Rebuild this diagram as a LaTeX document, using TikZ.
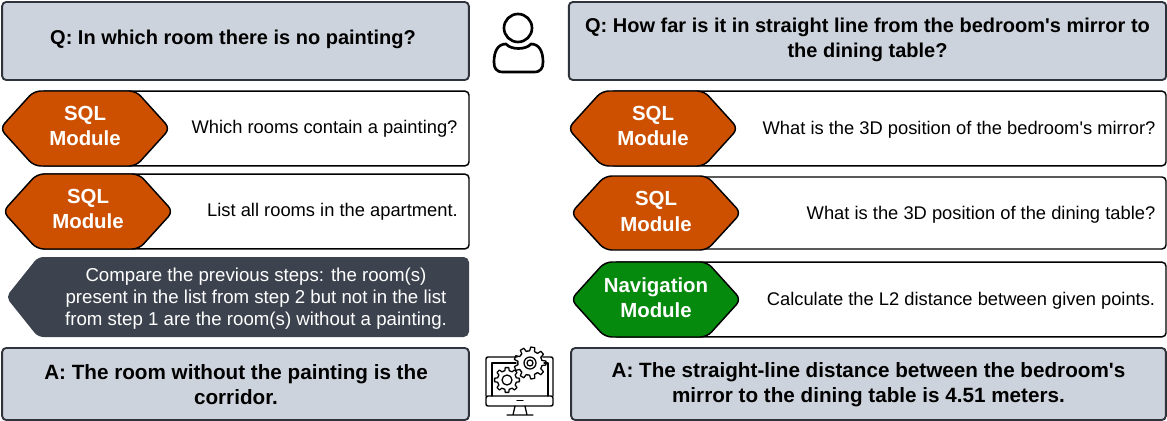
\documentclass[tikz,border=0pt]{standalone}
\usepackage{fontspec}
\setmainfont{Liberation Sans}[Ligatures=TeXOff]
\definecolor{qgray}{HTML}{CDD3DC}
\definecolor{edgegray}{HTML}{2E333B}
\definecolor{sqlorange}{HTML}{CC5000}
\definecolor{navgreen}{HTML}{068A0E}
\definecolor{darkslate}{HTML}{3D434E}
\tikzset{
  qabox/.style={draw=edgegray,line width=1.4pt,fill=qgray,rounded corners=3pt,inner sep=0pt},
  qtext/.style={align=center,font=\fontsize{15}{19}\selectfont\bfseries,text=black,inner sep=0pt},
  atext/.style={align=center,font=\fontsize{15.5}{19}\selectfont\bfseries,text=black,inner sep=0pt},
  stepbox/.style={draw=black,line width=1.1pt,fill=white,rounded corners=3pt,inner sep=0pt},
  steptext/.style={font=\fontsize{13.75}{18}\selectfont,text=black,inner sep=0pt},
  hexshape/.style={draw=black,line width=1.1pt,rounded corners=5pt,line join=round},
  modtext/.style={font=\fontsize{15.3}{19}\selectfont\bfseries,text=white,align=center,inner sep=0pt},
  icon/.style={draw=black,line width=1.5pt,line cap=round,line join=round},
  iconthin/.style={draw=black,line width=.95pt,line cap=round,line join=round}
}
\newcommand{\hexagon}[5]{% x1, x2, y1, y2, options
  \path[hexshape,#5] ({#1+32},#3) -- ({#2-32},#3) -- ({#2+2},{(#3+#4)/2}) -- ({#2-32},#4) -- ({#1+32},#4) -- ({#1-2},{(#3+#4)/2}) -- cycle;
}
\newcommand{\gearicon}[4]{% cx, cy, outer radius, teeth
  \path[fill=white] (#1,#2) circle ({#3*.85});
  \foreach \gi in {1,...,#4}{
    \pgfmathsetmacro{\gs}{360/#4}
    \pgfmathsetmacro{\ga}{\gi*\gs}
    \pgfmathsetmacro{\gr}{#3*0.76}
    \draw[iconthin]
      ({#1+\gr*cos(\ga-.5*\gs)},{#2+\gr*sin(\ga-.5*\gs)}) --
      ({#1+\gr*cos(\ga-.3*\gs)},{#2+\gr*sin(\ga-.3*\gs)}) --
      ({#1+#3*cos(\ga-.18*\gs)},{#2+#3*sin(\ga-.18*\gs)}) --
      ({#1+#3*cos(\ga+.18*\gs)},{#2+#3*sin(\ga+.18*\gs)}) --
      ({#1+\gr*cos(\ga+.3*\gs)},{#2+\gr*sin(\ga+.3*\gs)}) --
      ({#1+\gr*cos(\ga+.5*\gs)},{#2+\gr*sin(\ga+.5*\gs)});
  }
}
\begin{document}
\begin{tikzpicture}[x=.75pt,y=-.75pt]
\useasboundingbox (0,0) rectangle (1167,421);

% left column
\node[qabox,minimum width=350pt,minimum height=58.5pt] (lq) at (235.5,41) {};
\node[qtext] (lqt) at (233,39) {Q: In which room there is no painting?};
\node[stepbox,minimum width=321.75pt,minimum height=56pt] (l1) at (254.5,128.5) {};
\hexagon{2}{168}{91}{166}{fill=sqlorange}
\node[modtext] (l1m) at (85,126) {SQL\\Module};
\node[steptext] (l1t) at (324.5,129) {Which rooms contain a painting?};

\node[stepbox,minimum width=321.75pt,minimum height=56pt] (l2) at (254.5,211.5) {};
\hexagon{5}{171}{174}{249}{fill=sqlorange}
\node[modtext] (l2m) at (88,209) {SQL\\Module};
\node[steptext] (l2t) at (332.5,212) {List all rooms in the apartment.};

\path[fill=darkslate,rounded corners=4pt] (469,257) -- (469,337) -- (38,337) -- (6,297) -- (38,257) -- cycle;
\node[font=\fontsize{14}{16.5}\selectfont,text=white,align=center,inner sep=0pt] (l3t) at (256,299)
  {Compare the previous steps: the room(s)\\present in the list from step 2 but not in the list\\from step 1 are the room(s) without a painting.};

\node[qabox,minimum width=350pt,minimum height=54pt] (la) at (235.5,384) {};
\node[atext] (lat) at (236,384.5) {A: The room without the painting is the\\corridor.};

% right column
\node[qabox,minimum width=448pt,minimum height=58.5pt] (rq) at (867.5,41) {};
\node[qtext] (rqt) at (867.5,40) {Q: How far is it in straight line from the bedroom's mirror to\\the dining table?};
\node[stepbox,minimum width=417pt,minimum height=56pt] (r1) at (888,128.5) {};
\hexagon{570}{736}{91}{166}{fill=sqlorange}
\node[modtext] (r1m) at (653,126) {SQL\\Module};
\node[steptext] (r1t) at (959,130) {What is the 3D position of the bedroom's mirror?};

\node[stepbox,minimum width=414.75pt,minimum height=54pt] (r2) at (889.5,213) {};
\hexagon{573}{739}{176}{250}{fill=sqlorange}
\node[modtext] (r2m) at (656,211.5) {SQL\\Module};
\node[steptext] (r2t) at (981,215) {What is the 3D position of the dining table?};

\node[stepbox,minimum width=414.75pt,minimum height=56pt] (r3) at (889.5,299.5) {};
\hexagon{573}{739}{262}{337}{fill=navgreen}
\node[modtext] (r3m) at (656,297.5) {Navigation\\Module};
\node[steptext] (r3t) at (961,301) {Calculate the L2 distance between given points.};

\node[qabox,minimum width=446pt,minimum height=54pt] (ra) at (868.5,384) {};
\node[atext] (rat) at (868.5,385) {A: The straight-line distance between the bedroom's\\mirror to the dining table is 4.51 meters.};

% person icon
\draw[icon,line width=2pt] (518,28) circle (14);
\draw[icon,line width=2pt] (503,72) .. controls (496,72) and (494,68) .. (494,62)
  .. controls (494,51) and (498,44) .. (506,44)
  .. controls (511,50) and (526,50) .. (531,44)
  .. controls (539,44) and (543,51) .. (543,62)
  .. controls (543,68) and (541,72) .. (534,72) -- cycle;

% computer icon
\draw[iconthin,line width=1.1pt,rounded corners=1.5pt] (486,396) -- (486,357) -- (553,357) -- (553,396);
\draw[iconthin,line width=1.1pt,rounded corners=1.5pt] (486,396) rectangle (553,406);
\draw[iconthin] (492,396) -- (492,363) -- (548,363) -- (548,396);
\draw[iconthin,line width=1.1pt] (517,400.5) -- (523,400.5);
\draw[iconthin] (515,406) -- (513,415) (525,406) -- (527,415) (507,415) -- (533,415);
\gearicon{530}{363}{16}{9}
\draw[iconthin] (530,363) circle (6) (530,363) circle (3);
\gearicon{507}{380}{12.5}{8}
\draw[iconthin] (507,380) circle (5);
\end{tikzpicture}
\end{document}
